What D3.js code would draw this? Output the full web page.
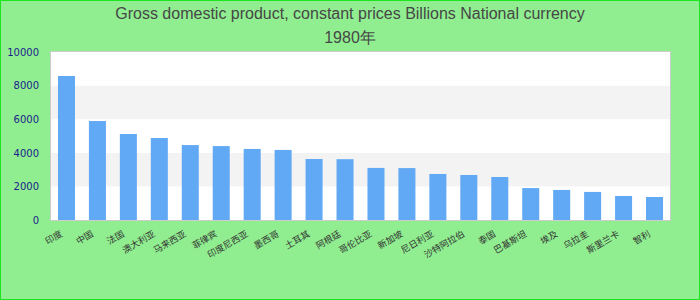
<!DOCTYPE html>
<html>
<head>
<meta charset="utf-8">
<script src="https://cdn.jsdelivr.net/npm/d3@7"></script>
<style>
  body { margin: 0; }
  svg { display: block; }
</style>
</head>
<body>
<div id="chart-area"></div>
<script>
// data
var countries = ["印度", "中国", "法国", "澳大利亚", "马来西亚", "菲律宾", "印度尼西亚",
    "墨西哥", "土耳其", "阿根廷", "哥伦比亚", "新加坡", "尼日利亚", "沙特阿拉伯",
    "泰国", "巴基斯坦", "埃及", "乌拉圭", "斯里兰卡", "智利"];
var gdpValues = [8570, 5890, 5120, 4880, 4460, 4400, 4230, 4170, 3630, 3620,
    3100, 3090, 2740, 2680, 2560, 1900, 1790, 1670, 1430, 1370];
var yTicks = [0, 2000, 4000, 6000, 8000, 10000];
var titleText = "Gross domestic product, constant prices Billions National currency";
var subTitleText = "1980年";

var W = 700, H = 300;
var margin = { left: 51, right: 30, top: 52, bottom: 80 },
    width = W - margin.left - margin.right,
    height = H - margin.top - margin.bottom;

var svg = d3.select("#chart-area").append("svg")
    .attr("width", W)
    .attr("height", H);

// background + outer border
svg.append("rect")
    .attr("x", 0.5).attr("y", 0.5)
    .attr("width", W - 1).attr("height", H - 1)
    .attr("fill", "#90ee90")
    .attr("stroke", "#1ee61e")
    .attr("stroke-width", 1);

// titles
svg.append("text")
    .attr("x", W / 2).attr("y", 19)
    .attr("text-anchor", "middle")
    .attr("font-family", "Liberation Sans, Arial, sans-serif")
    .attr("font-size", "16px")
    .attr("fill", "#464646")
    .text(titleText);
svg.append("text")
    .attr("x", W / 2).attr("y", 43)
    .attr("text-anchor", "middle")
    .attr("font-family", "Liberation Sans, Arial, sans-serif")
    .attr("font-size", "16px")
    .attr("fill", "#464646")
    .text(subTitleText);

var g = svg.append("g")
    .attr("transform", "translate(" + margin.left + ", " + margin.top + ")");

// scales
var x = d3.scaleBand()
    .domain(countries)
    .range([0, width])
    .paddingInner(0.45)
    .paddingOuter(0.225);
var y = d3.scaleLinear()
    .domain([0, 10000])
    .range([height, 0]);

// plot area with alternating bands
g.append("rect")
    .attr("width", width).attr("height", height)
    .attr("fill", "#ffffff");
g.selectAll(".band")
    .data(yTicks.slice(0, -1))
    .enter().append("rect")
    .attr("class", "band")
    .attr("x", 0)
    .attr("y", d => y(d + 2000))
    .attr("width", width)
    .attr("height", d => y(d) - y(d + 2000))
    .attr("fill", (d, i) => i % 2 == 1 ? "#f3f3f3" : "#ffffff");

// bars
g.selectAll(".bar")
    .data(gdpValues)
    .enter().append("rect")
    .attr("class", "bar")
    .attr("x", (d, i) => x(countries[i]))
    .attr("y", d => y(d))
    .attr("width", x.bandwidth())
    .attr("height", d => height - y(d))
    .attr("fill", "#62a9f5");

// frame
g.append("rect")
    .attr("x", -0.5).attr("y", -0.5)
    .attr("width", width + 1).attr("height", height + 1)
    .attr("fill", "none")
    .attr("stroke", "#cccccc")
    .attr("stroke-width", 1);

// y-axis
var yAxisCall = d3.axisLeft(y)
    .tickValues(yTicks)
    .tickFormat(d3.format("d"))
    .tickSize(0)
    .tickPadding(12);
var yAxis = g.append("g")
    .attr("class", "y axis")
    .call(yAxisCall);
yAxis.select(".domain").remove();
yAxis.selectAll("text")
    .attr("font-family", "DejaVu Sans, sans-serif")
    .attr("font-size", "10px")
    .attr("fill", "#1c1c8c");

// x-axis labels, rotated
var xAxisCall = d3.axisBottom(x).tickSize(0).tickPadding(0);
var xAxis = g.append("g")
    .attr("class", "x axis")
    .attr("transform", "translate(0," + height + ")")
    .call(xAxisCall);
xAxis.select(".domain").remove();
xAxis.selectAll("text")
    .attr("font-family", "Noto Sans CJK SC, sans-serif")
    .attr("font-size", "9px")
    .attr("fill", "#333333")
    .attr("text-anchor", "end")
    .attr("y", 0)
    .attr("dy", "0.35em")
    .attr("transform", "translate(-5,13) rotate(-30)");
</script>
</body>
</html>
